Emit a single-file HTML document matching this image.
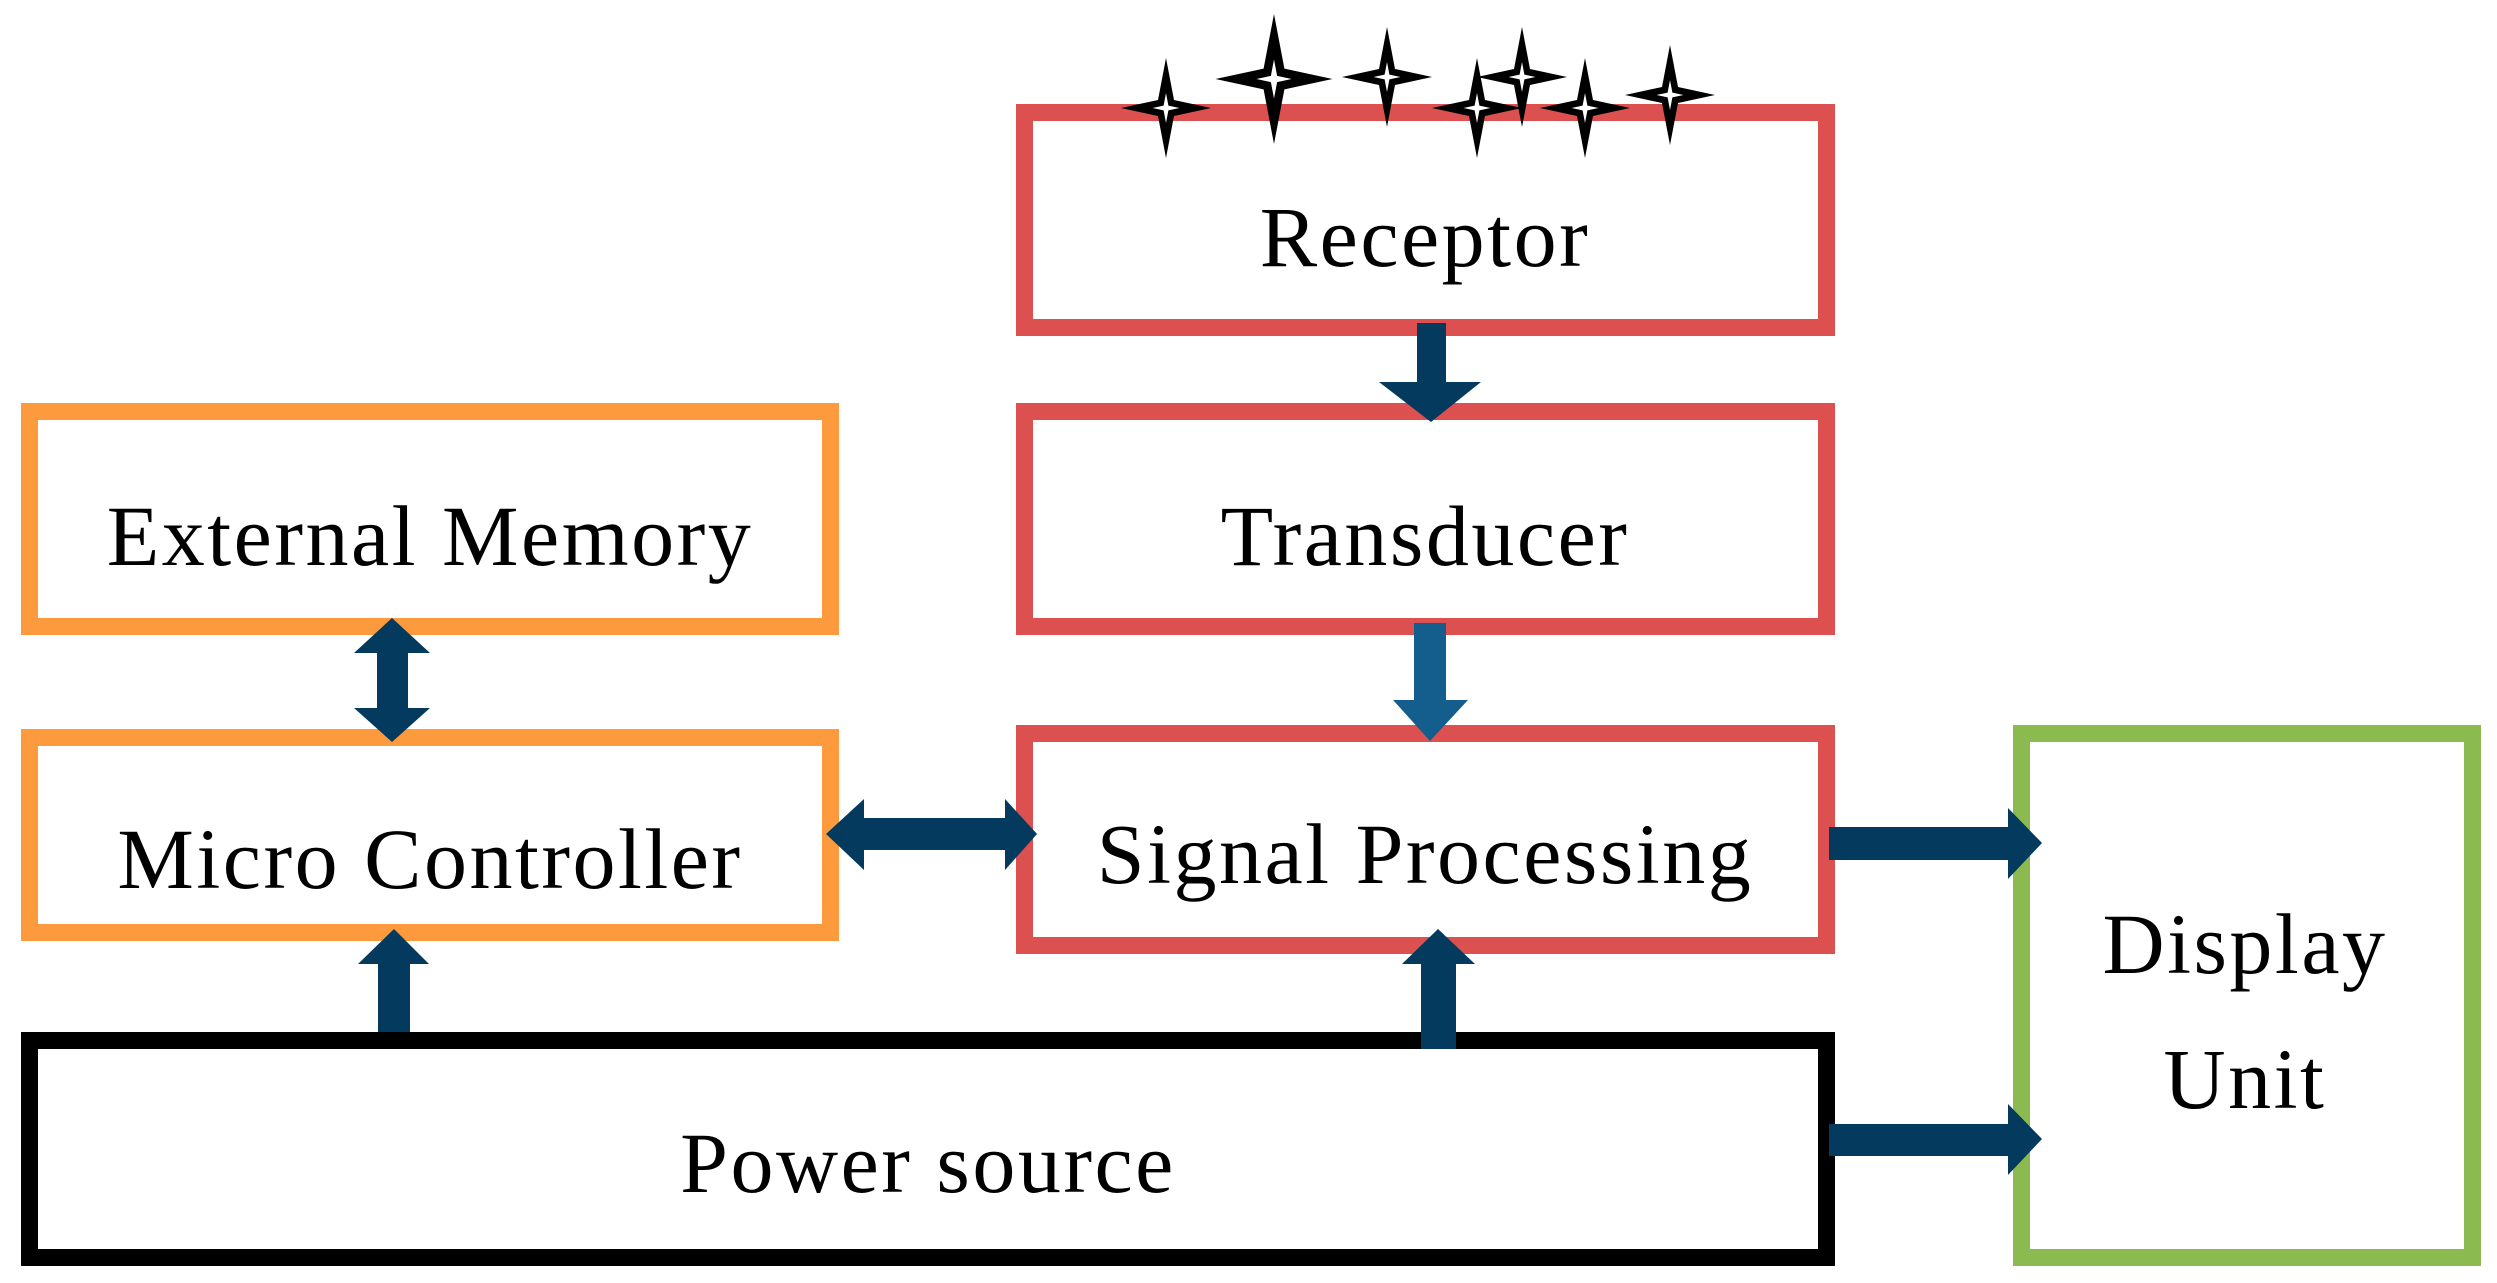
<!DOCTYPE html>
<html><head><meta charset="utf-8"><style>
html,body{margin:0;padding:0;background:#fff;}
svg{display:block;}
text{font-family:"Liberation Serif",serif;font-size:86px;letter-spacing:2.5px;fill:#000;text-anchor:middle;}
</style></head><body>
<svg width="2497" height="1283" viewBox="0 0 2497 1283" xmlns="http://www.w3.org/2000/svg">
<defs>
<path id="st" d="M0,-1 L0.16,-0.16 L0.9,0 L0.16,0.16 L0,1 L-0.16,0.16 L-0.9,0 L-0.16,-0.16 Z"/>
</defs>
<g fill="none" stroke-width="17">
<rect x="1024.5" y="112.5" width="802" height="215" stroke="#dc504f"/>
<rect x="1024.5" y="411.5" width="802" height="215" stroke="#dc504f"/>
<rect x="1024.5" y="733.5" width="802" height="212" stroke="#dc504f"/>
<rect x="29.5" y="411.5" width="801" height="215" stroke="#fd9a3e"/>
<rect x="29.5" y="737.5" width="801" height="195" stroke="#fd9a3e"/>
<rect x="29.5" y="1040.5" width="1797" height="217" stroke="#000"/>
<rect x="2021.5" y="733.5" width="451" height="524" stroke="#8bbb50"/>
</g>
<g fill="#033a5e">
<polygon points="1417,323 1446,323 1446,382 1481,382 1431,422 1379,382 1417,382"/>
<polygon points="392,618 430,653 408,653 408,708 430,708 392,742 354,708 377,708 377,653 354,653"/>
<polygon points="826,834 864,799 864,818 1005,818 1005,799 1037,834 1005,870 1005,850 864,850 864,870"/>
<polygon points="1829,827 2008,827 2008,808 2042,843 2008,879 2008,860 1829,860"/>
<polygon points="1829,1124 2008,1124 2008,1104 2042,1139 2008,1175 2008,1156 1829,1156"/>
<polygon points="378,1032 378,964 358,964 394,929 429,964 410,964 410,1032"/>
<polygon points="1421,1049 1421,964 1402,964 1438,929 1475,964 1456,964 1456,1049"/>
</g>
<polygon fill="#135e8d" points="1414,623 1446,623 1446,700 1468,700 1430,741 1393,700 1414,700"/>
<g>
<g transform="translate(1166,108) scale(50,50)"><use href="#st" fill="#000"/><use href="#st" fill="#fff" transform="scale(0.3)"/></g>
<g transform="translate(1274,79) scale(65,65)"><use href="#st" fill="#000"/><use href="#st" fill="#fff" transform="scale(0.3)"/></g>
<g transform="translate(1387,77) scale(50,50)"><use href="#st" fill="#000"/><use href="#st" fill="#fff" transform="scale(0.3)"/></g>
<g transform="translate(1477,108) scale(50,50)"><use href="#st" fill="#000"/><use href="#st" fill="#fff" transform="scale(0.3)"/></g>
<g transform="translate(1522,77) scale(50,50)"><use href="#st" fill="#000"/><use href="#st" fill="#fff" transform="scale(0.3)"/></g>
<g transform="translate(1585,108) scale(50,50)"><use href="#st" fill="#000"/><use href="#st" fill="#fff" transform="scale(0.3)"/></g>
<g transform="translate(1670,95) scale(50,50)"><use href="#st" fill="#000"/><use href="#st" fill="#fff" transform="scale(0.3)"/></g>
</g>
<text x="1425" y="266">Receptor</text>
<text x="1425" y="565">Transducer</text>
<text x="430" y="565">External Memory</text>
<text x="430" y="888">Micro Controller</text>
<text x="1425" y="883">Signal Processing</text>
<text x="928" y="1192">Power source</text>
<text x="2245" y="973">Display</text>
<text x="2245" y="1108">Unit</text>
</svg>
</body></html>
